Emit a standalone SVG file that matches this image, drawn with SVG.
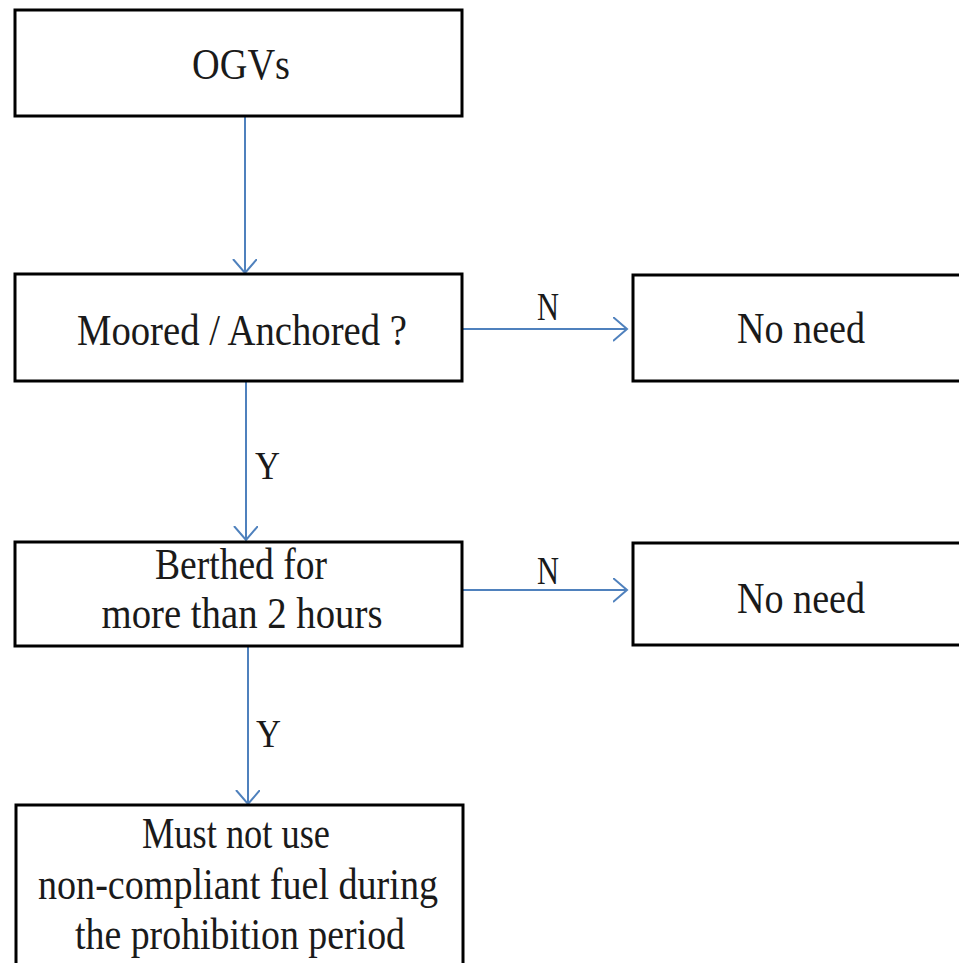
<svg xmlns="http://www.w3.org/2000/svg" width="959" height="963" viewBox="0 0 959 963">
<style>
.box{fill:#fff;stroke:#000;stroke-width:3}
.t{font-family:"Liberation Serif","Times New Roman",serif;font-size:44px;fill:#1a1a1a;text-anchor:middle}
.lbl{font-family:"Liberation Serif","Times New Roman",serif;font-size:40px;fill:#1a1a1a}
.c{fill:none;stroke:#4F81BD;stroke-width:2}
</style>
<defs>
<marker id="ah" markerWidth="16" markerHeight="28" refX="14" refY="12" orient="auto" markerUnits="userSpaceOnUse" viewBox="0 0 16 28">
<path d="M0,0 L14,12 L0,24" fill="none" stroke="#4F81BD" stroke-width="2"/>
</marker>
</defs>
<rect width="959" height="963" fill="#fff"/>
<g id="connectors">
<line class="c" x1="245" y1="116" x2="245" y2="273" marker-end="url(#ah)"/>
<line class="c" x1="462" y1="329" x2="627" y2="329" marker-end="url(#ah)"/>
<line class="c" x1="246" y1="381" x2="246" y2="540" marker-end="url(#ah)"/>
<line class="c" x1="462" y1="590" x2="627" y2="590" marker-end="url(#ah)"/>
<line class="c" x1="248" y1="646" x2="248" y2="804" marker-end="url(#ah)"/>
<text class="lbl" x="537" y="320" textLength="22" lengthAdjust="spacingAndGlyphs">N</text>
<text class="lbl" x="537" y="584" textLength="22" lengthAdjust="spacingAndGlyphs">N</text>
<text class="lbl" x="255" y="479" textLength="25" lengthAdjust="spacingAndGlyphs">Y</text>
<text class="lbl" x="256" y="747" textLength="25" lengthAdjust="spacingAndGlyphs">Y</text>
</g>
<g id="ogvs">
<rect class="box" x="15" y="10" width="447" height="106"/>
<text class="t" x="241" y="79" textLength="98" lengthAdjust="spacingAndGlyphs">OGVs</text>
</g>
<g id="moored">
<rect class="box" x="15" y="274" width="447" height="107"/>
<text class="t" x="242" y="345" textLength="330" lengthAdjust="spacingAndGlyphs">Moored / Anchored ?</text>
</g>
<g id="noneed1">
<rect class="box" x="633" y="275" width="340" height="106"/>
<text class="t" x="801" y="343" textLength="128" lengthAdjust="spacingAndGlyphs">No need</text>
</g>
<g id="berthed">
<rect class="box" x="15" y="542" width="447" height="104"/>
<text class="t" x="241" y="579" textLength="172" lengthAdjust="spacingAndGlyphs">Berthed for</text>
<text class="t" x="242" y="628" textLength="281" lengthAdjust="spacingAndGlyphs">more than 2 hours</text>
</g>
<g id="noneed2">
<rect class="box" x="633" y="543" width="340" height="102"/>
<text class="t" x="801" y="613" textLength="128" lengthAdjust="spacingAndGlyphs">No need</text>
</g>
<g id="mustnot">
<rect class="box" x="16" y="805" width="447" height="170"/>
<text class="t" x="236" y="848" textLength="188" lengthAdjust="spacingAndGlyphs">Must not use</text>
<text class="t" x="238" y="899" textLength="400" lengthAdjust="spacingAndGlyphs">non-compliant fuel during</text>
<text class="t" x="240" y="949" textLength="330" lengthAdjust="spacingAndGlyphs">the prohibition period</text>
</g>
</svg>
